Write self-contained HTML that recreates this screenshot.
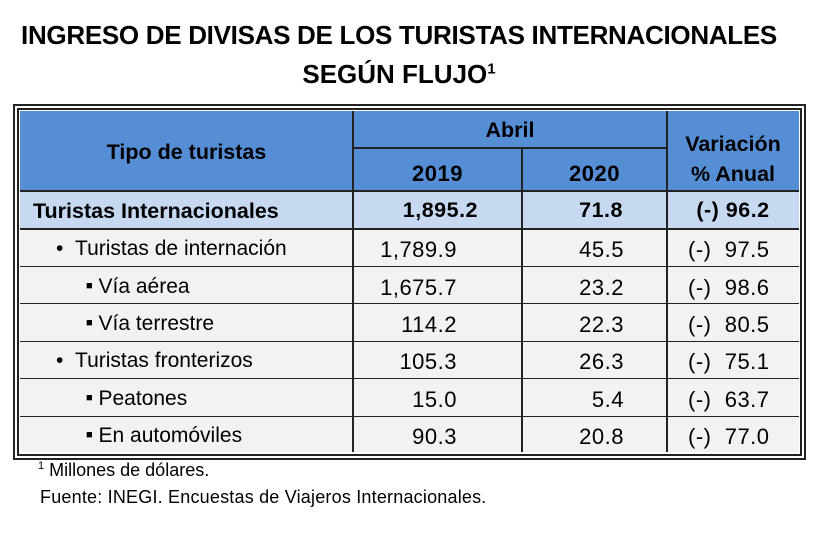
<!DOCTYPE html>
<html><head><meta charset="utf-8"><style>
body{margin:0;width:826px;height:534px;background:#fff;font-family:"Liberation Sans",sans-serif;position:relative;overflow:hidden}
.a{position:absolute}
.t{position:absolute;white-space:nowrap;color:#000}
.h{font-weight:bold;font-size:21.5px}
.d{font-size:21px}
.n{letter-spacing:0.5px;font-size:22px}
.b{font-weight:bold;font-size:21.5px}
.hl{position:absolute;height:2px;background:#222}
.vl{position:absolute;width:2px;background:#222}
.sq{font-size:11px;vertical-align:4px}
</style></head><body>
<div class="t" style="left:0px;top:20px;width:798px;text-align:center;font-weight:bold;font-size:26px;letter-spacing:-0.3px">INGRESO DE DIVISAS DE LOS TURISTAS INTERNACIONALES</div>
<div class="t" style="left:0px;top:59px;width:798px;text-align:center;font-weight:bold;font-size:26px">SEGÚN FLUJO<sup style="font-size:15px">1</sup></div>

<div class="a" style="left:13px;top:104px;width:789px;height:352px;border:2px solid #222"></div>
<div class="a" style="left:17px;top:108px;width:781px;height:344px;border:2px solid #222"></div>
<div class="a" style="left:20px;top:111px;width:779px;height:80px;background:#558ed5"></div>
<div class="a" style="left:20px;top:191px;width:779px;height:38px;background:#c6d9f1"></div>
<div class="a" style="left:20px;top:229px;width:779px;height:223px;background:#f2f2f2"></div>
<div class="hl" style="left:353px;top:147px;width:314px"></div>
<div class="hl" style="left:20px;top:190px;width:779px"></div>
<div class="hl" style="left:20px;top:228px;width:779px"></div>
<div class="hl" style="left:20px;top:266px;width:779px;height:1px"></div>
<div class="hl" style="left:20px;top:303px;width:779px;height:1px"></div>
<div class="hl" style="left:20px;top:341px;width:779px;height:1px"></div>
<div class="hl" style="left:20px;top:378px;width:779px;height:1px"></div>
<div class="hl" style="left:20px;top:416px;width:779px;height:1px"></div>
<div class="vl" style="left:352px;top:111px;height:341px"></div>
<div class="vl" style="left:521px;top:148px;height:304px"></div>
<div class="vl" style="left:666px;top:111px;height:341px"></div>

<div class="t h" style="left:20px;top:140px;width:333px;text-align:center">Tipo de turistas</div>
<div class="t h" style="left:353px;top:118px;width:314px;text-align:center">Abril</div>
<div class="t h n" style="left:353px;top:161px;width:169px;text-align:center">2019</div>
<div class="t h n" style="left:522px;top:161px;width:145px;text-align:center">2020</div>
<div class="t h" style="left:667px;top:132px;width:132px;text-align:center">Variación</div>
<div class="t h" style="left:667px;top:162px;width:132px;text-align:center">% Anual</div>

<div class="t b" style="left:33px;top:199px">Turistas Internacionales</div>
<div class="t b n" style="left:353px;top:198px;width:125px;text-align:right">1,895.2</div>
<div class="t b n" style="left:522px;top:198px;width:101px;text-align:right">71.8</div>
<div class="t b n" style="left:667px;top:198px;width:132px;text-align:center">(-) 96.2</div>

<div class="t d" style="left:56px;top:237px">•&nbsp;&nbsp;Turistas de internación</div>
<div class="t d n" style="left:353px;top:237px;width:104px;text-align:right">1,789.9</div>
<div class="t d n" style="left:522px;top:237px;width:102px;text-align:right">45.5</div>
<div class="t d n" style="left:688px;top:237px">(-)&nbsp; 97.5</div>

<div class="t d" style="left:86px;top:275px"><span class="sq">■</span> Vía aérea</div>
<div class="t d n" style="left:353px;top:275px;width:104px;text-align:right">1,675.7</div>
<div class="t d n" style="left:522px;top:275px;width:102px;text-align:right">23.2</div>
<div class="t d n" style="left:688px;top:275px">(-)&nbsp; 98.6</div>

<div class="t d" style="left:86px;top:312px"><span class="sq">■</span> Vía terrestre</div>
<div class="t d n" style="left:353px;top:312px;width:104px;text-align:right">114.2</div>
<div class="t d n" style="left:522px;top:312px;width:102px;text-align:right">22.3</div>
<div class="t d n" style="left:688px;top:312px">(-)&nbsp; 80.5</div>

<div class="t d" style="left:56px;top:349px">•&nbsp;&nbsp;Turistas fronterizos</div>
<div class="t d n" style="left:353px;top:349px;width:104px;text-align:right">105.3</div>
<div class="t d n" style="left:522px;top:349px;width:102px;text-align:right">26.3</div>
<div class="t d n" style="left:688px;top:349px">(-)&nbsp; 75.1</div>

<div class="t d" style="left:86px;top:387px"><span class="sq">■</span> Peatones</div>
<div class="t d n" style="left:353px;top:387px;width:104px;text-align:right">15.0</div>
<div class="t d n" style="left:522px;top:387px;width:102px;text-align:right">5.4</div>
<div class="t d n" style="left:688px;top:387px">(-)&nbsp; 63.7</div>

<div class="t d" style="left:86px;top:424px"><span class="sq">■</span> En automóviles</div>
<div class="t d n" style="left:353px;top:424px;width:104px;text-align:right">90.3</div>
<div class="t d n" style="left:522px;top:424px;width:102px;text-align:right">20.8</div>
<div class="t d n" style="left:688px;top:424px">(-)&nbsp; 77.0</div>

<div class="t" style="left:38px;top:460px;font-size:18px"><sup style="font-size:11px">1</sup> Millones de dólares.</div>
<div class="t" style="left:40px;top:487px;font-size:18px;letter-spacing:0.2px">Fuente: INEGI. Encuestas de Viajeros Internacionales.</div>
</body></html>
